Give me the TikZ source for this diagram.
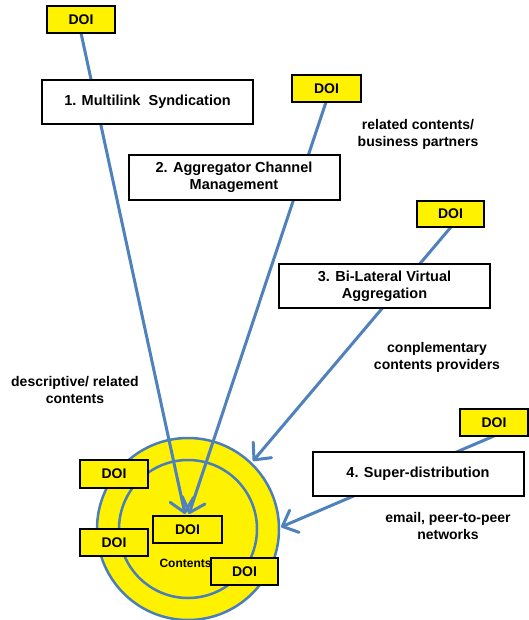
\documentclass[tikz,border=0pt]{standalone}
\usepackage{fontspec}
\setmainfont{Liberation Sans}
\usetikzlibrary{arrows.meta}
\definecolor{arrowblue}{HTML}{4F81BD}
\definecolor{circblue}{HTML}{4A7EBB}
\begin{document}
\begin{tikzpicture}[x=1pt,y=-1pt,
  doi/.style={draw=black,line width=2.5pt,fill=yellow,minimum width=#1,minimum height=26pt,inner sep=0pt,font=\fontsize{14}{16}\selectfont\bfseries},
  doi/.default=67pt,
  stagebox/.style={draw=black,line width=2pt,fill=white,minimum width=211pt,minimum height=44pt,inner sep=0pt,align=center,font=\fontsize{14.5}{17}\selectfont\bfseries},
  lbl/.style={align=center,font=\fontsize{14}{17}\selectfont\bfseries},
  conn/.style={draw=arrowblue,line width=3pt},
  arr/.style={conn,-{Straight Barb[length=13pt,width=24pt,line width=3pt,round]}}
]
\useasboundingbox (0,0) rectangle (528,620);
% circles
\fill[yellow,draw=circblue,line width=2.5pt] (188,529) circle[radius=91];
\draw[circblue,line width=2.5pt] (188,529) circle[radius=69];
% free ends
\coordinate (t1) at (185,514);
\coordinate (t2) at (189,514);
\coordinate (t3) at (253,461);
\coordinate (t4) at (281,527);
% DOI at top positions (for anchors)
\path (81,19.5) coordinate (d1c);
\path (326.5,88.5) coordinate (d2c);
\path (450.5,214) coordinate (d3c);
\path (494,422.5) coordinate (d4c);
\coordinate (d1s) at (81,33);
\coordinate (d2s) at (326,102);
\coordinate (d3s) at (451,227);
\coordinate (d4s) at (494,436);
% connectors
\draw[arr] (d1s) -- (t1);
\draw[arr] (d2s) -- (t2);
\draw[arr] (d3s) -- (t3);
\draw[arr] (d4s) -- (t4);
% stage boxes
\node[stagebox] (s1) at (147.5,102) {1. Multilink\ \ Syndication};
\node[stagebox,minimum height=45pt] (s2) at (234,177.5) {2. Aggregator Channel\\Management};
\node[stagebox] (s3) at (384.5,286) {3. Bi-Lateral Virtual\\Aggregation};
\node[stagebox] (s4) at (418,474) {4. Super-distribution};
% top DOIs
\node[doi=68pt,minimum height=27pt] (d1) at (d1c) {DOI};
\node[doi=69pt,minimum height=27pt] (d2) at (d2c) {DOI};
\node[doi] (d3) at (d3c) {DOI};
\node[doi=68pt,minimum height=27pt] (d4) at (d4c) {DOI};
% labels
\node[lbl] (l1) at (418,134.5) {related contents/\\business partners};
\node[lbl] (l2) at (437,357.5) {conplementary\\contents providers};
\node[lbl] (l3) at (448,525.5) {email, peer-to-peer\\networks};
\node[lbl] (l4) at (75,389.5) {descriptive/ related\\contents};
% inner content
\node[font=\fontsize{12}{14}\selectfont\bfseries,anchor=west] (ct) at (156,563) {Contents};
\node[doi=68pt,minimum height=28pt] (c1) at (114,474) {DOI};
\node[doi=68pt,minimum height=27pt] (c2) at (114,542.5) {DOI};
\node[doi=69pt,minimum height=27pt] (c3) at (187.5,529.5) {DOI};
\node[doi=67pt,minimum height=27pt] (c4) at (244.5,571.5) {DOI};
\end{tikzpicture}
\end{document}
